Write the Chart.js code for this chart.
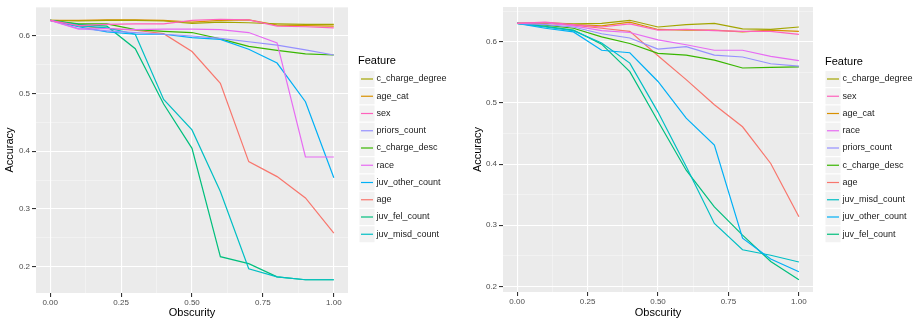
<!DOCTYPE html>
<html><head><meta charset="utf-8">
<script src="https://cdn.jsdelivr.net/npm/chart.js@4.4.1/dist/chart.umd.min.js"></script>
<style>
html,body{margin:0;padding:0;background:#fff;}
#wrap{position:relative;width:916px;height:322px;overflow:hidden;}
#c1{position:absolute;left:0;top:0;}
#c2{position:absolute;left:460px;top:0;}
</style></head><body>
<div id="wrap"><canvas id="c1" width="460" height="322"></canvas><canvas id="c2" width="456" height="322"></canvas></div>
<script>
// ---- data ----
const obscurity = [0, 0.1, 0.2, 0.3, 0.4, 0.5, 0.6, 0.7, 0.8, 0.9, 1.0];
const features = ['age','age_cat','c_charge_degree','c_charge_desc','juv_fel_count','juv_misd_count','juv_other_count','priors_count','race','sex'];
const featureColors = ['#F8766D','#D89000','#A3A500','#39B600','#00BF7D','#00BFC4','#00B0F6','#9590FF','#E76BF3','#FF62BC'];

// left panel
const L_age             = [0.627,0.617,0.613,0.610,0.604,0.573,0.518,0.382,0.356,0.319,0.258];
const L_age_cat         = [0.627,0.627,0.628,0.628,0.627,0.624,0.627,0.628,0.619,0.618,0.617];
const L_c_charge_degree = [0.627,0.626,0.627,0.627,0.626,0.622,0.624,0.623,0.621,0.620,0.620];
const L_c_charge_desc   = [0.627,0.621,0.621,0.611,0.608,0.606,0.595,0.582,0.575,0.569,0.567];
const L_juv_fel_count   = [0.627,0.620,0.617,0.578,0.482,0.405,0.217,0.205,0.182,0.177,0.177];
const L_juv_misd_count  = [0.627,0.618,0.614,0.603,0.490,0.437,0.330,0.196,0.182,0.177,0.177];
const L_juv_other_count = [0.627,0.616,0.607,0.603,0.603,0.597,0.594,0.577,0.553,0.486,0.354];
const L_priors_count    = [0.627,0.613,0.609,0.606,0.603,0.600,0.596,0.590,0.584,0.576,0.567];
const L_race            = [0.627,0.612,0.613,0.611,0.612,0.612,0.611,0.606,0.588,0.390,0.390];
const L_sex             = [0.627,0.618,0.620,0.621,0.621,0.627,0.629,0.628,0.617,0.616,0.614];
const leftLegendOrder = ['c_charge_degree','age_cat','sex','priors_count','c_charge_desc','race','juv_other_count','age','juv_fel_count','juv_misd_count'];

// right panel
const R_age             = [0.630,0.631,0.627,0.622,0.617,0.577,0.538,0.497,0.461,0.401,0.314];
const R_age_cat         = [0.630,0.630,0.628,0.626,0.632,0.620,0.619,0.619,0.616,0.619,0.617];
const R_c_charge_degree = [0.630,0.631,0.629,0.630,0.635,0.624,0.628,0.630,0.621,0.620,0.624];
const R_c_charge_desc   = [0.630,0.627,0.622,0.608,0.597,0.581,0.578,0.570,0.557,0.558,0.559];
const R_juv_fel_count   = [0.630,0.625,0.619,0.596,0.551,0.470,0.390,0.330,0.284,0.241,0.211];
const R_juv_misd_count  = [0.630,0.624,0.618,0.598,0.565,0.485,0.396,0.303,0.260,0.251,0.240];
const R_juv_other_count = [0.630,0.622,0.616,0.586,0.582,0.535,0.475,0.431,0.279,0.245,0.224];
const R_priors_count    = [0.630,0.628,0.624,0.613,0.606,0.588,0.592,0.578,0.575,0.564,0.560];
const R_race            = [0.630,0.631,0.626,0.618,0.615,0.603,0.595,0.586,0.586,0.576,0.569];
const R_sex             = [0.630,0.632,0.628,0.624,0.629,0.619,0.620,0.618,0.617,0.617,0.612];
const rightLegendOrder = ['c_charge_degree','sex','age_cat','race','priors_count','c_charge_desc','age','juv_misd_count','juv_other_count','juv_fel_count'];

// ticks
const xMajor = [0, 0.25, 0.5, 0.75, 1];
const xTickLabels = ['0.00','0.25','0.50','0.75','1.00'];
const xMinor = [0.125, 0.375, 0.625, 0.875];
const yMajor = [0.2, 0.3, 0.4, 0.5, 0.6];
const yTickLabels = ['0.2','0.3','0.4','0.5','0.6'];
const yMinor = [0.15, 0.25, 0.35, 0.45, 0.55, 0.65];

const FONT = '"Liberation Sans", Arial, Helvetica, sans-serif';

const panelBg = {
  id: 'panelBg',
  beforeDraw(ch) {
    const {ctx, chartArea: a} = ch;
    ctx.save();
    ctx.fillStyle = '#EBEBEB';
    ctx.fillRect(a.left, a.top, a.right - a.left, a.bottom - a.top);
    ctx.restore();
  }
};

const ggLegend = {
  id: 'ggLegend',
  afterDraw(ch, args, o) {
    const ctx = ch.ctx;
    ctx.save();
    ctx.textBaseline = 'middle';
    ctx.textAlign = 'left';
    ctx.fillStyle = '#000';
    ctx.font = '11px ' + FONT;
    ctx.fillText('Feature', o.titleX, o.titleY);
    o.order.forEach((name, k) => {
      const ds = ch.data.datasets.find(d => d.label === name);
      const cy = o.firstY + k * o.step;
      ctx.fillStyle = '#F2F2F2';
      ctx.fillRect(o.x0, cy - 8, 15, 16);
      ctx.strokeStyle = ds.borderColor;
      ctx.lineWidth = 1.2;
      ctx.beginPath();
      ctx.moveTo(o.x0 + 1.5, cy);
      ctx.lineTo(o.x0 + 13.5, cy);
      ctx.stroke();
      ctx.fillStyle = '#1A1A1A';
      ctx.font = '9px ' + FONT;
      ctx.fillText(name, o.x0 + 17, cy);
    });
    ctx.restore();
  }
};

function isIn(v, arr) { return arr.some(a => Math.abs(a - v) < 1e-6); }

function makeChart(id, series, legendOrder, yMin, yMax, layoutPad, yWidth, xHeight, legendOpts) {
  const datasets = features.map((f, i) => ({
    label: f,
    data: obscurity.map((x, j) => ({x: x, y: series[i][j]})),
    borderColor: featureColors[i],
    backgroundColor: featureColors[i],
    borderWidth: 1.2,
    pointRadius: 0,
    pointHoverRadius: 0,
    fill: false,
    tension: 0
  })).reverse();
  const gridCommon = {
    color: c => (c.tick && c.tick.m) ? '#FFFFFF' : 'rgba(255,255,255,0.7)',
    lineWidth: c => (c.tick && c.tick.m) ? 1.1 : 0.55,
    tickColor: c => (c.tick && c.tick.m) ? '#333333' : 'rgba(0,0,0,0)',
    tickLength: 4,
    drawTicks: true
  };
  return new Chart(document.getElementById(id), {
    type: 'line',
    data: {datasets},
    options: {
      responsive: false,
      animation: false,
      devicePixelRatio: 1,
      layout: {padding: layoutPad},
      plugins: {
        legend: {display: false},
        tooltip: {enabled: false},
        ggLegend: Object.assign({order: legendOrder}, legendOpts)
      },
      scales: {
        x: {
          type: 'linear',
          min: -0.05, max: 1.05,
          afterBuildTicks: s => {
            s.ticks = xMajor.concat(xMinor).sort((a, b) => a - b).map(v => ({value: v, m: isIn(v, xMajor)}));
          },
          afterFit: s => { s.height = xHeight; },
          ticks: {
            autoSkip: false, maxRotation: 0, padding: 1,
            color: '#4D4D4D', font: {family: FONT, size: 8},
            callback: (v) => { const k = xMajor.findIndex(a => Math.abs(a - v) < 1e-6); return k >= 0 ? xTickLabels[k] : ''; }
          },
          grid: gridCommon,
          border: {display: false},
          title: {display: true, text: 'Obscurity', color: '#000', font: {family: FONT, size: 11}, padding: {top: 0, bottom: 2}}
        },
        y: {
          type: 'linear',
          min: yMin, max: yMax,
          afterBuildTicks: s => {
            s.ticks = yMajor.concat(yMinor).filter(v => v >= yMin && v <= yMax).sort((a, b) => a - b).map(v => ({value: v, m: isIn(v, yMajor)}));
          },
          afterFit: s => { s.width = yWidth; },
          ticks: {
            autoSkip: false, padding: 2,
            color: '#4D4D4D', font: {family: FONT, size: 8},
            callback: (v) => { const k = yMajor.findIndex(a => Math.abs(a - v) < 1e-6); return k >= 0 ? yTickLabels[k] : ''; }
          },
          grid: gridCommon,
          border: {display: false},
          title: {display: true, text: 'Accuracy', color: '#000', font: {family: FONT, size: 11}, padding: {top: 3, bottom: 0}}
        }
      }
    },
    plugins: [panelBg, ggLegend]
  });
}

makeChart('c1',
  [L_age, L_age_cat, L_c_charge_degree, L_c_charge_desc, L_juv_fel_count, L_juv_misd_count, L_juv_other_count, L_priors_count, L_race, L_sex],
  leftLegendOrder, 0.154, 0.6503,
  {left: 0, right: 112, top: 7, bottom: 0}, 36, 29,
  {x0: 359.5, titleX: 358, titleY: 61, firstY: 79, step: 17.25});

makeChart('c2',
  [R_age, R_age_cat, R_c_charge_degree, R_c_charge_desc, R_juv_fel_count, R_juv_misd_count, R_juv_other_count, R_priors_count, R_race, R_sex],
  rightLegendOrder, 0.191, 0.6567,
  {left: 8, right: 103, top: 7, bottom: 0}, 35, 30,
  {x0: 365.5, titleX: 365, titleY: 62, firstY: 79, step: 17.25});
</script>
</body></html>
